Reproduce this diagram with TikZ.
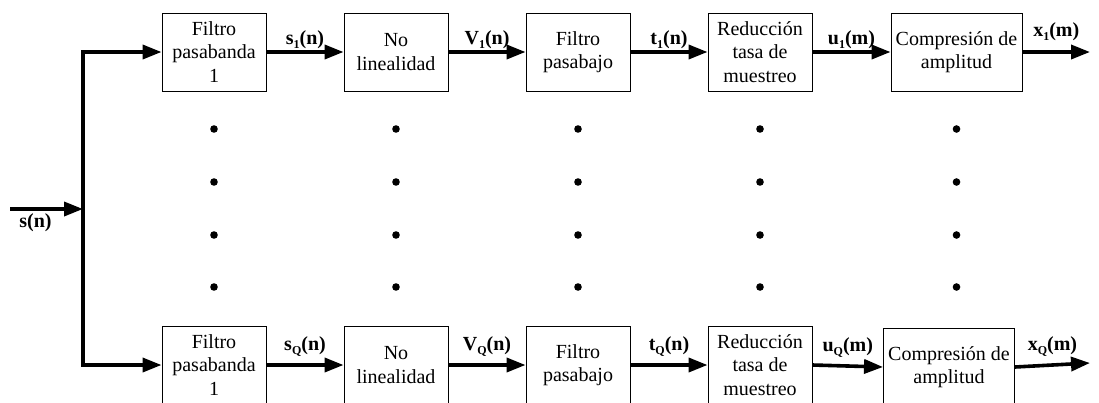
\documentclass[tikz,border=0pt]{standalone}
\usepackage{fontspec}
\setmainfont{Liberation Serif}
\usetikzlibrary{arrows.meta,positioning}
\tikzset{
    block/.style = {draw, rectangle, line width=0.9pt,
        minimum height=78pt,
        minimum width=104pt, inner sep=0pt, align=center,
        font=\fontsize{20}{23.5}\selectfont},
    wide/.style = {block, minimum width=131pt},
    arrow/.style = {draw, line width=3.6pt, -{Triangle[length=19pt,width=14pt]}},
    sig/.style = {font=\fontsize{20}{22}\selectfont\bfseries, inner sep=1pt}
}
% signal name with a lowered subscript
\newcommand{\signame}[3]{#1\raisebox{-4pt}{\fontsize{12}{12}\selectfont #2}(#3)}

\begin{document}
\begin{tikzpicture}[x=1pt,y=-1pt]
    \useasboundingbox (0,0) rectangle (1099,402);
    % first branch
    \node[block] (fb1) at (214,52) {Filtro\\pasabanda\\1};
    \node[block] (nl1) at (396,52) {No\\linealidad};
    \node[block] (pb1) at (578,52) {Filtro\\pasabajo};
    \node[block] (rt1) at (760,52) {Reducción\\tasa de\\muestreo};
    \node[wide] (ca1) at (956.5,52) {Compresión de\\amplitud};
    % last branch
    \node[block] (fbQ) at (214,365) {Filtro\\pasabanda\\1};
    \node[block] (nlQ) at (396,365) {No\\linealidad};
    \node[block] (pbQ) at (578,365) {Filtro\\pasabajo};
    \node[block] (rtQ) at (760,365) {Reducción\\tasa de\\muestreo};
    \node[wide] (caQ) at (949,367) {Compresión de\\amplitud};
    \coordinate (in) at (10,209);
    \coordinate (split) at (83,209);
    \coordinate (out1) at (1090,52);
    \coordinate (outQ) at (1090,363);
    % input and splitting
    \draw[arrow] (in) -- node[sig,below,pos=.35,yshift=-2pt] {s(n)} (split);
    \draw[arrow] (split) |- (fb1.west);
    \draw[arrow] (split) |- (fbQ.west);
    % chain 1
    \draw[arrow] (fb1) -- node[sig,above] {\signame{s}{1}{n}} (nl1);
    \draw[arrow] (nl1) -- node[sig,above] {\signame{V}{1}{n}} (pb1);
    \draw[arrow] (pb1) -- node[sig,above] {\signame{t}{1}{n}} (rt1);
    \draw[arrow] (rt1) -- node[sig,above] {\signame{u}{1}{m}} (ca1);
    \draw[arrow] (ca1) -- node[sig,above,yshift=8pt] {\signame{x}{1}{m}} (out1);
    % chain Q
    \draw[arrow] (fbQ) -- node[sig,above,yshift=6pt] {\signame{s}{Q}{n}} (nlQ);
    \draw[arrow] (nlQ) -- node[sig,above,yshift=6pt] {\signame{V}{Q}{n}} (pbQ);
    \draw[arrow] (pbQ) -- node[sig,above,yshift=6pt] {\signame{t}{Q}{n}} (rtQ);
    \draw[arrow] (rtQ.east) -- node[sig,above,yshift=6pt] {\signame{u}{Q}{m}} (caQ.west);
    \draw[arrow] (caQ.east) -- node[sig,above,yshift=6pt] {\signame{x}{Q}{m}} (outQ);
    % dots between the branches
    \foreach \b in {fb1,nl1,pb1,rt1,ca1}
        \foreach \y in {129,182,235,287}
            \fill (\b |- 0,\y) circle (3.8pt);
\end{tikzpicture}
\end{document}
